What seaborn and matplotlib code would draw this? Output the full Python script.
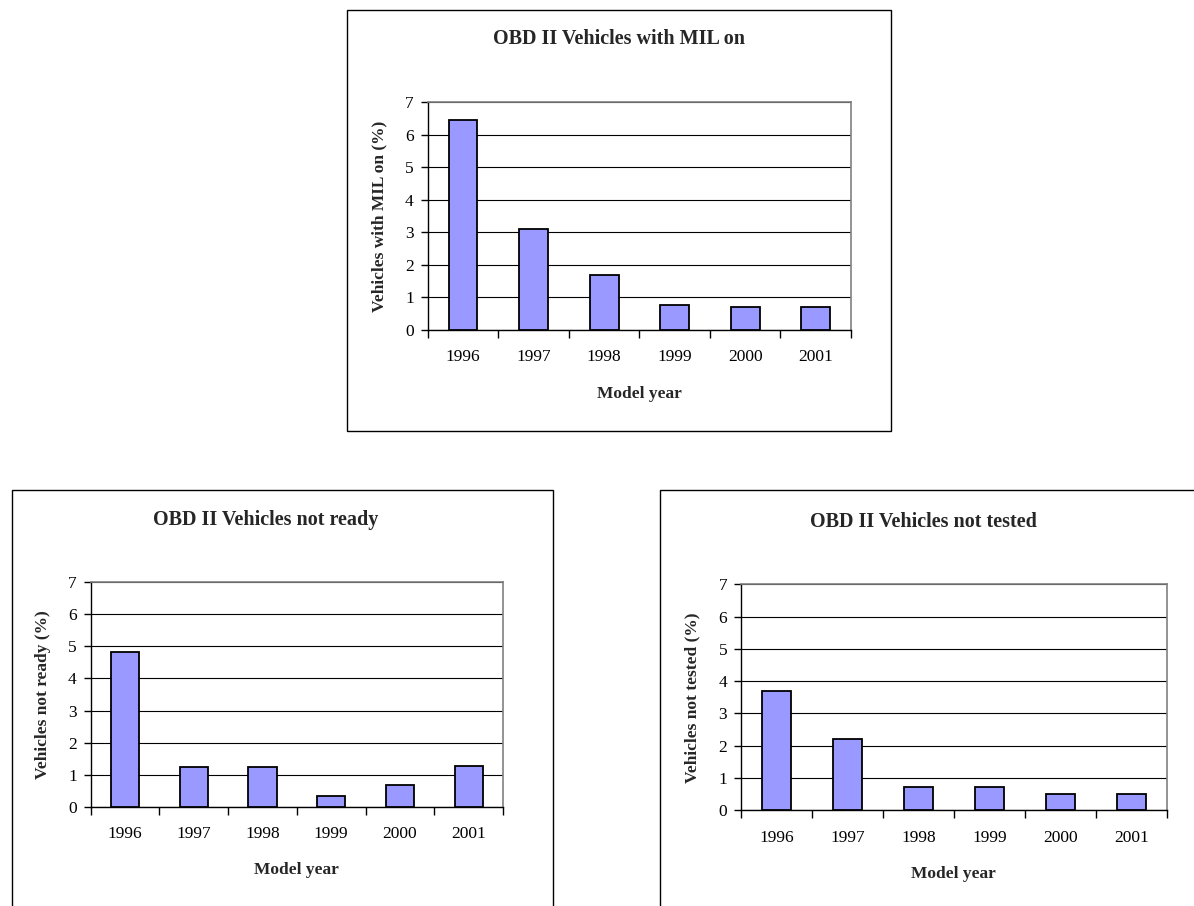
import matplotlib
matplotlib.use("Agg")
import numpy as np
import pandas as pd
import matplotlib.pyplot as plt
import seaborn as sns
from matplotlib.patches import Rectangle
from matplotlib.ticker import FixedLocator

# ---- data ----
years = ["1996", "1997", "1998", "1999", "2000", "2001"]
mil_on = [6.45, 3.1, 1.7, 0.76, 0.71, 0.71]
not_ready = [4.83, 1.23, 1.23, 0.33, 0.67, 1.27]
not_tested = [3.69, 2.22, 0.73, 0.73, 0.51, 0.51]
titles = ["OBD II Vehicles with MIL on", "OBD II Vehicles not ready", "OBD II Vehicles not tested"]
ylabels = ["Vehicles with MIL on (%)", "Vehicles not ready (%)", "Vehicles not tested (%)"]
xlabel = "Model year"
yticks = [0, 1, 2, 3, 4, 5, 6, 7]

sns.set_theme(style="white")
plt.rcParams['font.family'] = ['Liberation Serif', 'DejaVu Serif']

W, H = 1194, 906
fig = plt.figure(figsize=(W / 100, H / 100), dpi=100)
fig.patch.set_facecolor("white")


def fx(x):
    return x / W


def fy(y):
    return 1 - y / H


def frame(x0, y0, x1, y1):
    fig.add_artist(Rectangle((fx(x0), fy(y1)), fx(x1) - fx(x0), fy(y0) - fy(y1),
                             transform=fig.transFigure, fill=False,
                             edgecolor="black", linewidth=1.0, clip_on=False))


frame(347, 10, 891, 431)
frame(12, 490, 553, 930)
frame(660, 490, 1220, 930)

# axes boxes in pixel coords (left, top, right, bottom)
boxes = [(427.7, 102.3, 851.0, 330.0),
         (90.7, 582.3, 503.0, 806.7),
         (741.0, 584.3, 1166.7, 810.3)]
title_x = [0.452, 0.425, 0.428]
series = [mil_on, not_ready, not_tested]

for i, vals in enumerate(series):
    l, t, r, b = boxes[i]
    ax = fig.add_axes([fx(l), fy(b), fx(r) - fx(l), fy(t) - fy(b)])
    df = pd.DataFrame({"year": years, "value": vals})
    sns.barplot(data=df, x="year", y="value", color="#9999FF", saturation=1,
                edgecolor="black", linewidth=1.3, width=0.41, ax=ax, zorder=3)
    ax.set_xlim(-0.5, 5.5)
    ax.set_ylim(0, 7)
    ax.set_yticks(yticks)
    ax.set_yticklabels([str(v) for v in yticks])
    ax.yaxis.grid(True, color="black", linewidth=0.8)
    ax.xaxis.grid(False)
    ax.set_axisbelow(True)
    for s in ["left", "bottom"]:
        ax.spines[s].set_color("black")
        ax.spines[s].set_linewidth(1.0)
    for s in ["top", "right"]:
        ax.spines[s].set_color("#808080")
        ax.spines[s].set_linewidth(1.2)
    ax.tick_params(axis="x", which="major", length=0, pad=14, labelsize=12.5, colors="black")
    ax.xaxis.set_minor_locator(FixedLocator(np.arange(-0.5, 6.0, 1.0)))
    ax.tick_params(axis="x", which="minor", bottom=True, length=6, width=1.0,
                   direction="out", color="black")
    ax.tick_params(axis="y", left=True, length=5, width=1.0, direction="out",
                   pad=5, labelsize=12.5, colors="black")
    ax.set_xlabel(xlabel, fontweight="bold", fontsize=12.5)
    ax.xaxis.set_label_coords(0.5, -0.245)
    ax.set_ylabel(ylabels[i], fontweight="bold", fontsize=12.5)
    ax.yaxis.set_label_coords(-0.096, 0.5)
    ax.set_title(titles[i], fontweight="bold", fontsize=14.5, x=title_x[i], y=1.255, pad=0)

fig.savefig("out.png", dpi=100, facecolor="white")
